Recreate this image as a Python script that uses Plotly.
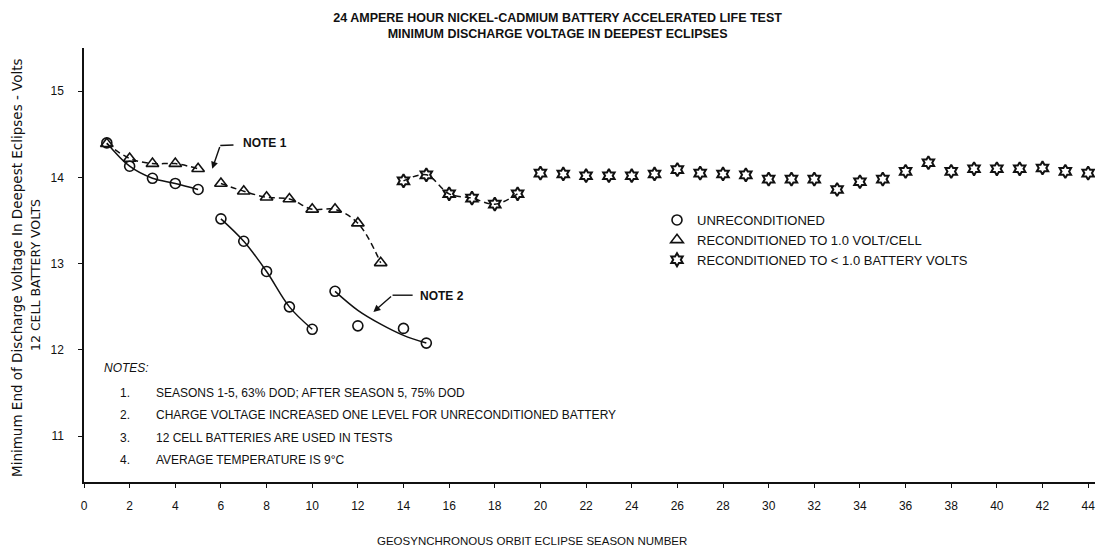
import plotly.graph_objects as go

# ---------------- data ----------------
unrecon_a_seasons = [1, 2, 3, 4, 5]
unrecon_a_volts = [14.40, 14.13, 13.99, 13.93, 13.86]
unrecon_b_seasons = [6, 7, 8, 9, 10]
unrecon_b_volts = [13.52, 13.26, 12.91, 12.50, 12.24]
unrecon_c_seasons = [11, 12, 14, 15]
unrecon_c_volts = [12.68, 12.28, 12.25, 12.08]
unrecon_fit_seasons = [11, 12, 13, 14, 15]
unrecon_fit_volts = [12.68, 12.46, 12.30, 12.17, 12.08]

recon_a_seasons = [1, 2, 3, 4, 5]
recon_a_volts = [14.39, 14.22, 14.16, 14.16, 14.10]
recon_b_seasons = [6, 7, 8, 9, 10, 11, 12, 13]
recon_b_volts = [13.93, 13.84, 13.77, 13.75, 13.63, 13.63, 13.47, 13.01]

deep_seasons = list(range(14, 45))
deep_volts = [13.96, 14.03, 13.81, 13.76, 13.69, 13.81, 14.05, 14.04, 14.02, 14.02,
              14.02, 14.04, 14.09, 14.05, 14.04, 14.03, 13.98, 13.98, 13.98, 13.86,
              13.95, 13.98, 14.07, 14.17, 14.07, 14.10, 14.10, 14.10, 14.11, 14.07, 14.05]
deep_line_seasons = [14, 15, 16, 17, 18, 19]

x_ticks = list(range(0, 46, 2))
y_ticks = [11, 12, 13, 14, 15]

legend_names = ["UNRECONDITIONED", "RECONDITIONED TO 1.0 VOLT/CELL",
                "RECONDITIONED TO < 1.0 BATTERY VOLTS"]

notes = ["SEASONS 1-5, 63% DOD; AFTER SEASON 5, 75% DOD",
         "CHARGE VOLTAGE INCREASED ONE LEVEL FOR UNRECONDITIONED BATTERY",
         "12 CELL BATTERIES ARE USED IN TESTS",
         "AVERAGE TEMPERATURE IS 9°C"]

# ---------------- figure ----------------
FONT = "Liberation Sans, Arial, sans-serif"
BLACK = "#111111"
W, H = 1102, 553
ML, MR, MT, MB = 84, 7, 48, 71
PW, PH = W - ML - MR, H - MT - MB


def px(xp):
    return (xp - ML) / PW


def py(yp):
    return (H - MB - yp) / PH


fig = go.Figure()

circle = dict(symbol="circle-open", size=10, color=BLACK, line=dict(width=1.6, color=BLACK))
tri = dict(symbol="triangle-up-open", size=11, color=BLACK, line=dict(width=1.6, color=BLACK))
star = dict(symbol="hexagram-open", size=10, color=BLACK, line=dict(width=2.0, color=BLACK))

solid = dict(color=BLACK, width=1.5, shape="spline")
dashed = dict(color=BLACK, width=1.5, dash="6px,4px", shape="spline")

# unreconditioned
fig.add_trace(go.Scatter(x=unrecon_a_seasons, y=unrecon_a_volts, mode="lines+markers",
                         line=solid, marker=circle, showlegend=False))
fig.add_trace(go.Scatter(x=unrecon_b_seasons, y=unrecon_b_volts, mode="lines+markers",
                         line=solid, marker=circle, showlegend=False))
fig.add_trace(go.Scatter(x=unrecon_fit_seasons, y=unrecon_fit_volts, mode="lines",
                         line=solid, showlegend=False))
fig.add_trace(go.Scatter(x=unrecon_c_seasons, y=unrecon_c_volts, mode="markers",
                         marker=circle, showlegend=False))

# reconditioned to 1.0 V/cell
fig.add_trace(go.Scatter(x=recon_a_seasons, y=recon_a_volts, mode="lines+markers",
                         line=dashed, marker=tri, showlegend=False))
fig.add_trace(go.Scatter(x=recon_b_seasons, y=recon_b_volts, mode="lines+markers",
                         line=dashed, marker=tri, showlegend=False))

# reconditioned to < 1.0 battery volts
n_line = len(deep_line_seasons)
fig.add_trace(go.Scatter(x=deep_seasons[:n_line], y=deep_volts[:n_line], mode="lines",
                         line=dashed, showlegend=False))
fig.add_trace(go.Scatter(x=deep_seasons, y=deep_volts, mode="markers",
                         marker=star, showlegend=False))

# legend entries (marker only)
for name, mk in zip(legend_names, [circle, tri, star]):
    fig.add_trace(go.Scatter(x=[None], y=[None], mode="markers", marker=mk, name=name))

annotations = []
# NOTES block
annotations.append(dict(xref="paper", yref="paper", x=px(102), y=py(368), text="<i>NOTES:</i>",
                        showarrow=False, xanchor="left", yanchor="middle",
                        font=dict(family=FONT, size=12, color=BLACK)))
for i, t in enumerate(notes):
    yy = py(393 + i * 22.3)
    annotations.append(dict(xref="paper", yref="paper", x=px(118), y=yy, text=f"{i + 1}.",
                            showarrow=False, xanchor="left", yanchor="middle",
                            font=dict(family=FONT, size=12, color=BLACK)))
    annotations.append(dict(xref="paper", yref="paper", x=px(154), y=yy, text=t,
                            showarrow=False, xanchor="left", yanchor="middle",
                            font=dict(family=FONT, size=12, color=BLACK)))

# NOTE 1 / NOTE 2 labels and arrows
annotations.append(dict(x=7.95, y=14.40, text="<b>NOTE 1</b>", showarrow=False,
                        font=dict(family=FONT, size=12, color=BLACK)))
annotations.append(dict(x=5.62, y=14.10, ax=5.97, ay=14.37, axref="x", ayref="y", text="",
                        showarrow=True, arrowhead=2, arrowsize=1, arrowwidth=1.4, arrowcolor=BLACK))
annotations.append(dict(x=15.7, y=12.63, text="<b>NOTE 2</b>", showarrow=False,
                        font=dict(family=FONT, size=12, color=BLACK)))
annotations.append(dict(x=12.68, y=12.44, ax=13.52, ay=12.635, axref="x", ayref="y", text="",
                        showarrow=True, arrowhead=2, arrowsize=1, arrowwidth=1.4, arrowcolor=BLACK))

# y-axis title (two lines)
annotations.append(dict(xref="paper", yref="paper", x=px(17), y=py(268),
                        text="Minimum End of Discharge Voltage In Deepest Eclipses - Volts",
                        textangle=-90, showarrow=False, xanchor="center", yanchor="middle",
                        font=dict(family="DejaVu Sans, sans-serif", size=13.5, color=BLACK)))
annotations.append(dict(xref="paper", yref="paper", x=px(35), y=py(275),
                        text="12 CELL BATTERY VOLTS",
                        textangle=-90, showarrow=False, xanchor="center", yanchor="middle",
                        font=dict(family="DejaVu Sans, sans-serif", size=12.5, color=BLACK)))
# x-axis title
annotations.append(dict(xref="paper", yref="paper", x=px(532), y=py(541),
                        text="GEOSYNCHRONOUS ORBIT ECLIPSE SEASON NUMBER",
                        showarrow=False, xanchor="center", yanchor="middle",
                        font=dict(family=FONT, size=11.5, color=BLACK)))

shapes = [
    dict(type="line", xref="x", yref="y", x0=6.55, x1=5.97, y0=14.375, y1=14.37,
         line=dict(color=BLACK, width=1.4)),
    dict(type="line", xref="x", yref="y", x0=14.4, x1=13.52, y0=12.635, y1=12.635,
         line=dict(color=BLACK, width=1.4)),
]

fig.update_layout(
    width=W, height=H,
    margin=dict(l=ML, r=MR, t=MT, b=MB),
    paper_bgcolor="white", plot_bgcolor="white",
    font=dict(family=FONT, size=12, color=BLACK),
    title=dict(text="<b>24 AMPERE HOUR NICKEL-CADMIUM BATTERY ACCELERATED LIFE TEST<br>"
                    "MINIMUM DISCHARGE VOLTAGE IN DEEPEST ECLIPSES</b>",
               x=0.506, xanchor="center", y=1 - 22 / H, yanchor="middle",
               font=dict(family=FONT, size=12.5, color=BLACK)),
    xaxis=dict(range=[0, 44.3], tickvals=x_ticks, ticks="outside", ticklen=4, tickwidth=1,
               tickcolor=BLACK, showline=True, linecolor=BLACK, linewidth=1.5,
               showgrid=False, zeroline=False, ticklabelstandoff=8,
               tickfont=dict(family=FONT, size=12, color=BLACK)),
    yaxis=dict(range=[10.47, 15.5], tickvals=y_ticks, ticks="outside", ticklen=4, tickwidth=1,
               tickcolor=BLACK, showline=True, linecolor=BLACK, linewidth=1.5,
               showgrid=False, zeroline=False, ticklabelstandoff=12,
               tickfont=dict(family=FONT, size=12, color=BLACK)),
    legend=dict(x=px(657), y=py(205), xanchor="left", yanchor="top",
                bgcolor="rgba(0,0,0,0)", font=dict(family=FONT, size=13, color=BLACK),
                tracegroupgap=0, itemwidth=30),
    annotations=annotations,
    shapes=shapes,
)

fig.write_html("out.html", config={"displayModeBar": False},
               post_script="document.body.style.margin='0';document.body.style.overflow='hidden';")
